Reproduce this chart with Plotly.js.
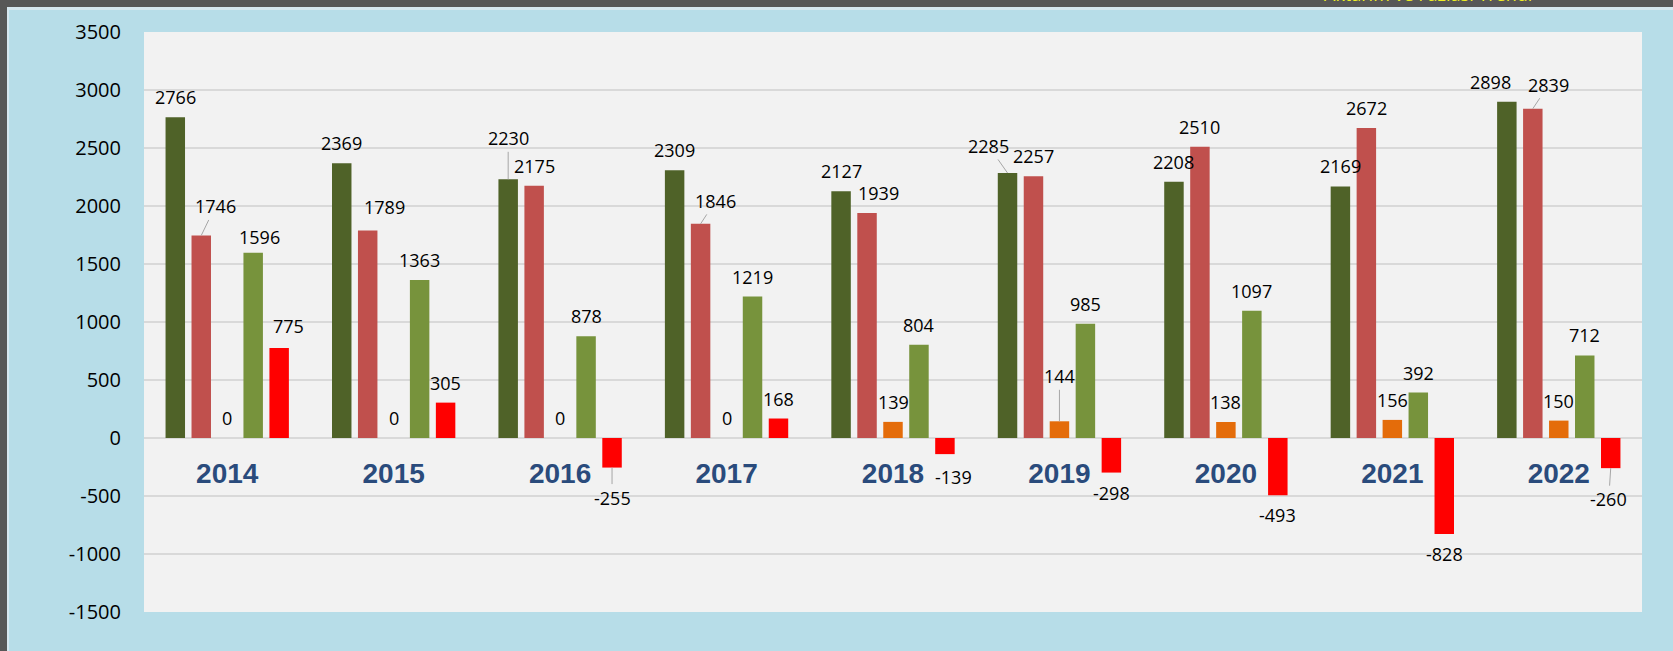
<!DOCTYPE html>
<html>
<head>
<meta charset="utf-8">
<script src="https://cdn.plot.ly/plotly-3.0.1.min.js"></script>
<style>
  html, body { margin: 0; padding: 0; background: #b7dde8; }
  #chart { width: 1673px; height: 651px; }
</style>
</head>
<body>
<div id="chart"></div>
<script>
// ---- data ----
const years = [2014, 2015, 2016, 2017, 2018, 2019, 2020, 2021, 2022];
const yearLabels = ['2014', '2015', '2016', '2017', '2018', '2019', '2020', '2021', '2022'];
const series1 = [2766, 2369, 2230, 2309, 2127, 2285, 2208, 2169, 2898];
const series2 = [1746, 1789, 2175, 1846, 1939, 2257, 2510, 2672, 2839];
const series3 = [0, 0, 0, 0, 139, 144, 138, 156, 150];
const series4 = [1596, 1363, 878, 1219, 804, 985, 1097, 392, 712];
const series5 = [775, 305, -255, 168, -139, -298, -493, -828, -260];
const yTickValues = [-1500, -1000, -500, 0, 500, 1000, 1500, 2000, 2500, 3000, 3500];
const yTickLabels = ['-1500', '-1000', '-500', '0', '500', '1000', '1500', '2000', '2500', '3000', '3500'];
const topTitle = 'Aktarım ve Fazlası Trendi';

// ---- styling ----
const seriesList = [series1, series2, series3, series4, series5];
const colors = ['#4f6228', '#c0504d', '#e46c0a', '#77933c', '#ff0000'];
const names = ['Seri 1', 'Seri 2', 'Seri 3', 'Seri 4', 'Seri 5'];
const bargap = 0.22;
const nS = seriesList.length;
const slot = (1 - bargap) / nS;

const traces = seriesList.map((s, k) => ({
  type: 'bar',
  x: years,
  y: s,
  name: names[k],
  marker: { color: colors[k], line: { width: 0 } },
  hoverinfo: 'x+y',
  showlegend: false
}));

// label adjustments (pixels, screen coords: dx right, dy down) relative to bar end
const labelAdjust = {
  '1,0': [14, -29, true],
  '0,2': [0, -41, true],
  '1,3': [15, -23, true],
  '0,5': [-19, -27, true],
  '2,5': [0, -45, true],
  '0,8': [-16, -20, false],
  '1,8': [16, -24, true],
  '4,2': [0, 30, true],
  '4,8': [-2, 31, true],
  '1,1': [17, -23, false],
  '1,4': [11, -20, false],
  '4,4': [9, 23, false],
  '3,0': [6, -16, false],
  '4,0': [9, -22, false]
};

const labelFont = { family: 'Open Sans, Liberation Sans, sans-serif', size: 18, color: '#000000' };
const annotations = [];
seriesList.forEach((s, k) => {
  const off = -(1 - bargap) / 2 + (k + 0.5) * slot;
  s.forEach((v, i) => {
    const key = k + ',' + i;
    let adj = labelAdjust[key];
    if (!adj) adj = [0, v < 0 ? 20 : -20, false];
    const [dx, dy, leader] = adj;
    const base = { x: years[i] + off, y: v, xref: 'x', yref: 'y', text: String(v), font: labelFont };
    if (leader) {
      annotations.push(Object.assign(base, {
        showarrow: true, ax: dx, ay: dy, arrowhead: 0, arrowwidth: 1,
        arrowcolor: '#a6a6a6', standoff: 0, startstandoff: 0
      }));
    } else {
      annotations.push(Object.assign(base, {
        showarrow: false, xshift: dx, yshift: -dy, xanchor: 'center', yanchor: 'middle'
      }));
    }
  });
});

// page geometry helpers
const W = 1673, H = 651;
const M = { l: 144, r: 31, t: 32, b: 39 };
const pw = W - M.l - M.r, ph = H - M.t - M.b;
const px = x => (x - M.l) / pw;
const py = y => (H - M.b - y) / ph;

annotations.push({
  xref: 'paper', yref: 'paper', x: px(1428), y: py(8), xanchor: 'center', yanchor: 'bottom',
  text: topTitle, showarrow: false,
  font: { family: 'Open Sans, sans-serif', size: 18, color: '#eeee22' }
});

const shapes = [
  { type: 'rect', xref: 'paper', yref: 'paper', x0: px(-5), x1: px(W + 5), y0: py(7), y1: py(-5),
    fillcolor: '#575757', line: { width: 0 }, layer: 'below' },
  { type: 'rect', xref: 'paper', yref: 'paper', x0: px(7), x1: px(W + 5), y0: py(10), y1: py(7),
    fillcolor: '#d6e7ef', line: { width: 0 }, layer: 'below' },
  { type: 'rect', xref: 'paper', yref: 'paper', x0: px(-5), x1: px(7), y0: py(H + 5), y1: py(7),
    fillcolor: '#575757', line: { width: 0 }, layer: 'below' },
  { type: 'rect', xref: 'paper', yref: 'paper', x0: px(7), x1: px(9), y0: py(H + 5), y1: py(10),
    fillcolor: '#d6e7ef', line: { width: 0 }, layer: 'below' }
];

const layout = {
  width: W, height: H,
  margin: M,
  paper_bgcolor: '#b7dde8',
  plot_bgcolor: '#f2f2f2',
  barmode: 'group',
  bargap: bargap,
  bargroupgap: 0.25,
  showlegend: false,
  xaxis: {
    range: [2013.5, 2022.5],
    tickvals: years,
    ticktext: yearLabels,
    showgrid: false,
    zeroline: false,
    showline: false,
    ticks: '',
    anchor: 'free',
    position: py(437.7),
    ticklabelstandoff: 16,
    tickfont: { family: 'Liberation Sans, Arial, sans-serif', size: 28, color: '#2a4b7c', weight: 'bold' },
    fixedrange: true
  },
  yaxis: {
    range: [-1500, 3500],
    tickmode: 'array',
    tickvals: yTickValues,
    ticktext: yTickLabels,
    showgrid: true,
    gridcolor: '#d9d9d9',
    gridwidth: 1.5,
    zeroline: true,
    zerolinecolor: '#d9d9d9',
    zerolinewidth: 1.5,
    showline: false,
    ticks: '',
    ticklabelstandoff: 22,
    tickfont: { family: 'Open Sans, Liberation Sans, sans-serif', size: 20, color: '#000000' },
    fixedrange: true
  },
  annotations: annotations,
  shapes: shapes
};

Plotly.newPlot('chart', traces, layout, { displayModeBar: false, staticPlot: true });
</script>
</body>
</html>
